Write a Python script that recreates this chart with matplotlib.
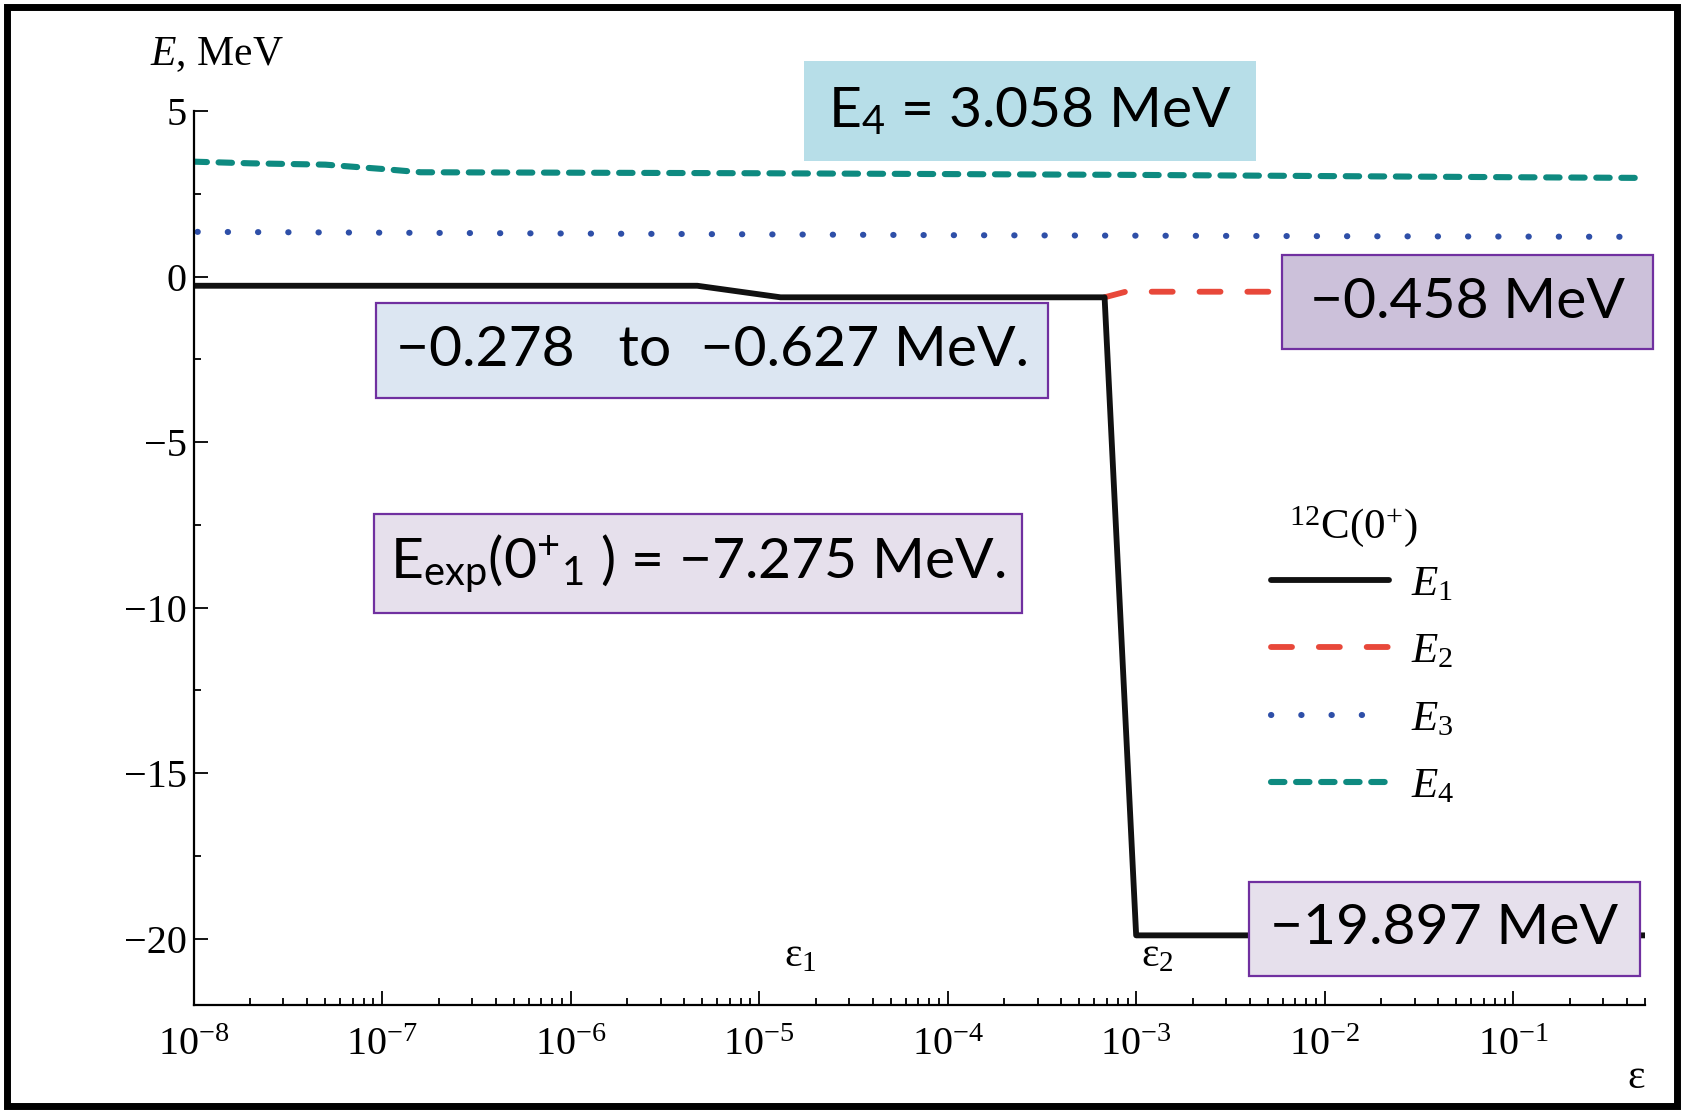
import matplotlib
matplotlib.use("Agg")
import matplotlib.pyplot as plt
from matplotlib.patches import Rectangle
from matplotlib.ticker import LogLocator, MultipleLocator, NullFormatter

# ---- data ----
eps_E1 = [1e-8, 4.7e-6, 1.3e-5, 6.8e-4, 1.0e-3, 0.5]
E1 = [-0.278, -0.278, -0.627, -0.627, -19.897, -19.897]

eps_E2 = [6.8e-4, 8.8e-4, 0.5]
E2 = [-0.627, -0.458, -0.458]

eps_E3 = [1.05e-8, 1e-6, 1e-4, 1e-2, 0.45]
E3 = [1.35, 1.3, 1.25, 1.22, 1.2]

eps_E4 = [1e-8, 2e-8, 5e-8, 1e-7, 1.6e-7, 1e-5, 1e-3, 1e-1, 0.45]
E4 = [3.47, 3.42, 3.38, 3.25, 3.15, 3.12, 3.07, 3.0, 2.98]

eps_marks = [1.65e-5, 1.3e-3]
eps_mark_labels = ['\u03b5$_{1}$', '\u03b5$_{2}$']

MINUS = '\u2212'
# annotation boxes: text, face colour, edge colour, box in pixels (x0, y0, x1, y1 from top-left)
boxes = [
    ('E$_{\\mathregular{4}}$ = 3.058 MeV', '#B7DEE8', 'none', (804, 61, 1256, 161)),
    (MINUS + '0.278   to  ' + MINUS + '0.627 MeV.', '#DCE6F2', '#7030A0', (376, 303, 1048, 398)),
    (MINUS + '0.458 MeV', '#CCC1DA', '#7030A0', (1282, 255, 1653, 349)),
    ('E$_{\\mathregular{exp}}$(0$^{\\mathregular{+}}$$_{\\mathregular{1}}$ ) = ' + MINUS + '7.275 MeV.',
     '#E6E0EC', '#7030A0', (374, 514, 1022, 613)),
    (MINUS + '19.897 MeV', '#E6E0EC', '#7030A0', (1249, 882, 1640, 976)),
]

plt.rcParams['font.family'] = 'Liberation Serif'
plt.rcParams['mathtext.fontset'] = 'custom'
plt.rcParams['mathtext.rm'] = 'Liberation Serif'
plt.rcParams['mathtext.it'] = 'Liberation Serif:italic'

W, H = 1686, 1114
fig = plt.figure(figsize=(W / 100, H / 100), dpi=100)
ax = fig.add_axes([193.5 / W, 1 - 1005 / H, (1645 - 193.5) / W, (1005 - 111) / H])

ax.plot(eps_E2, E2, color='#E8483A', lw=4.2, dashes=(3.6, 4.6), dash_capstyle='round', label=r'$E_2$')
ax.plot(eps_E3, E3, color='#2E4FA8', lw=4.4, dashes=(0.05, 4.9), dash_capstyle='round', label=r'$E_3$')
ax.plot(eps_E4, E4, color='#0E8A80', lw=4.4, dashes=(2.2, 1.9), dash_capstyle='round', label=r'$E_4$')
ax.plot(eps_E1, E1, color='#111111', lw=4.2, solid_capstyle='round', label=r'$E_1$')

ax.set_xscale('log')
ax.set_xlim(1e-8, 0.5)
ax.set_ylim(-22, 5)
ax.yaxis.set_major_locator(MultipleLocator(5))
ax.yaxis.set_minor_locator(MultipleLocator(2.5))
ax.xaxis.set_major_locator(LogLocator(base=10, numticks=20))
ax.xaxis.set_minor_locator(LogLocator(base=10, subs=range(2, 10), numticks=20))
ax.xaxis.set_minor_formatter(NullFormatter())

for s in ['top', 'right']:
    ax.spines[s].set_visible(False)
for s in ['left', 'bottom']:
    ax.spines[s].set_linewidth(1.6)
ax.tick_params(which='both', direction='in', width=1.3, labelsize=29)
ax.tick_params(which='major', length=10)
ax.tick_params(which='minor', length=5)
ax.tick_params(axis='x', pad=16)
ax.tick_params(axis='y', pad=5)

for x, lab in zip(eps_marks, eps_mark_labels):
    ax.text(x, -21.1, lab, fontsize=30, ha='center', va='bottom')

# axis labels
fig.text(150 / W, 1 - 55 / H, r'$E$, MeV', fontsize=30, ha='left', va='center')
fig.text(1636 / W, 1 - 1078 / H, '\u03b5', fontsize=30, ha='center', va='center')

# legend (title drawn separately to match its spacing)
order = [3, 0, 1, 2]
h, l = ax.get_legend_handles_labels()
leg = fig.legend([h[i] for i in order], [l[i] for i in order],
                 loc='upper left', bbox_to_anchor=(1232 / W, 1 - 526 / H),
                 frameon=False, fontsize=31, handlelength=2.75,
                 labelspacing=0.66, handletextpad=0.5)
fig.text(1353 / W, 1 - 527 / H, r'$^{12}$C(0$^{+}$)', fontsize=31, ha='center', va='center')

# annotation boxes
for txt, fc, ec, (x0, y0, x1, y1) in boxes:
    fig.patches.append(Rectangle((x0 / W, 1 - y1 / H), (x1 - x0) / W, (y1 - y0) / H,
                                 transform=fig.transFigure, facecolor=fc,
                                 edgecolor=ec, lw=1.6, zorder=5))
    fig.text((x0 + x1) / 2 / W, 1 - (y0 + y1) / 2 / H, txt, family='Lato',
             fontsize=41, ha='center', va='center', zorder=6)

# slide frame
fig.patches.append(Rectangle((6.5 / W, 1 - 1105.5 / H), 1670 / W, 1099 / H,
                             transform=fig.transFigure, fill=False,
                             edgecolor='black', lw=5, zorder=10))

fig.savefig('out.png', dpi=100)
